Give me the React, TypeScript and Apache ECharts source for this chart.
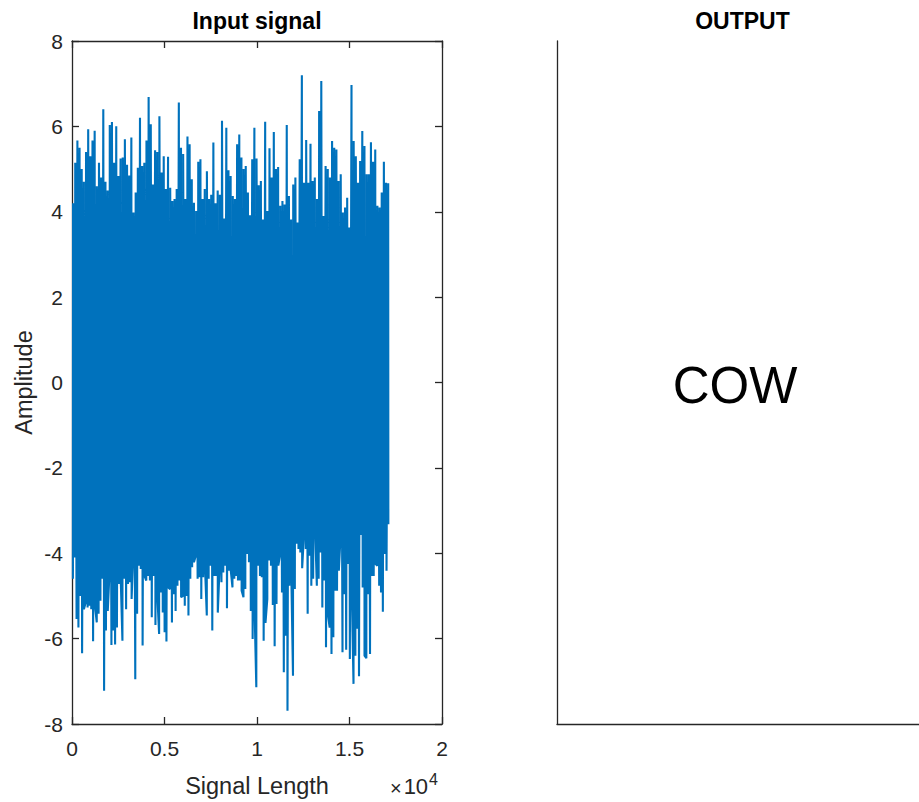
import React, { useEffect, useRef } from "react";
import * as echarts from "echarts";

// Input signal: heights of the visible upper spikes (left to right)
const UPPER_PEAKS = [
  4.2, 5.15, 5.67, 5.5, 5.0, 4.7, 5.4, 5.93, 5.3, 5.67, 5.9, 4.6, 5.15, 4.8, 6.4, 4.7, 4.5, 6.03, 6.1, 5.15,
  6.0, 4.84, 5.25, 5.27, 5.7, 5.1, 4.85, 5.74, 3.98, 4.45, 5.03, 6.2, 5.07, 5.15, 5.67, 6.69, 6.05, 4.64, 5.44, 5.4,
  6.24, 4.92, 5.3, 4.53, 5.29, 4.56, 4.25, 4.3, 4.53, 6.56, 5.5, 5.35, 4.3, 5.76, 5.58, 4.76, 4.21, 4.02, 5.17, 5.23,
  4.3, 4.53, 4.95, 4.3, 4.4, 5.62, 4.2, 4.5, 4.4, 6.13, 3.84,
  5.97, 4.97, 4.84, 4.37, 4.3, 5.58, 5.81, 5.27, 5.0, 5.07, 4.45, 3.92, 5.23, 5.97, 5.25, 4.62, 4.72, 3.82, 6.11, 4.02,
  5.49, 4.8, 5.87, 5.0, 5.05, 4.14, 4.25, 4.17, 6.03, 4.37, 3.82, 4.64, 4.8, 3.75, 5.23, 7.2, 4.68, 5.68, 4.68, 5.59,
  4.72, 4.8, 4.3, 6.36, 7.06, 3.9, 5.07, 5.0, 4.8, 5.66, 5.5, 5.46, 4.72, 4.88, 3.98, 4.1, 4.33, 3.63, 6.97, 5.66,
  5.3, 4.68, 5.19, 5.89, 5.54, 4.88, 4.88, 5.63, 5.17, 5.46, 4.14, 4.1, 4.45, 5.17, 4.68, 4.67,
];

// Input signal: depths of the visible lower spikes (left to right)
const LOWER_PEAKS = [
  -4.6, -4.1, -5.54, -5.74, -5.0, -6.34, -5.31, -5.15, -5.27, -5.23, -5.31, -6.06, -5.23, -5.62, -5.42, -5.11, -4.6,
  -7.22, -5.81, -5.35, -4.41, -6.15, -5.81, -6.14, -5.74, -4.72, -4.49, -6.05, -4.6, -5.31, -4.72, -4.68, -5.07, -3.9,
  -6.95, -5.42, -4.29, -4.37, -6.16, -4.53, -4.64, -4.53, -4.64, -5.5, -4.53, -5.68, -4.96, -5.89, -4.92, -5.39, -5.85,
  -6.07, -4.8, -4.84, -5.62, -4.96, -5.35, -4.76, -4.64, -5.03, -5.0, -5.23, -5.0, -5.46, -4.6, -4.33, -4.21, -4.06,
  -4.6, -4.56, -5.07, -4.56, -4.29, -5.46, -4.6, -4.29, -5.81, -4.53, -4.53, -5.39, -4.29, -4.68, -4.45,
  -4.29, -5.29, -4.41, -4.37, -4.8, -4.6, -4.53, -4.64, -4.64, -4.88, -5.03, -4.84, -4.02, -4.21, -5.35, -6.01, -5.23,
  -7.14, -4.29, -4.53, -4.56, -6.05, -5.63, -5.07, -4.17, -4.29, -5.21, -6.18, -5.19, -4.29, -4.02, -4.92, -6.79, -5.93,
  -7.69, -4.76, -4.29, -6.87, -4.84, -3.78, -3.9, -3.98, -4.35, -3.55, -3.9, -5.42, -4.06, -4.76, -4.6, -3.32, -4.76,
  -4.6, -3.98, -5.27, -4.64, -6.2, -5.42, -5.74, -6.36, -5.97, -4.88, -4.88, -4.41, -3.55, -6.32, -4.96, -6.26, -4.25,
  -6.48, -4.8, -7.06, -6.4, -5.77, -6.88, -3.57, -4.8, -6.4, -6.46, -4.96, -6.36, -4.53, -4.53, -4.25, -4.29, -4.76,
  -4.92, -5.37, -4.02, -4.41, -3.32,
];

// total signal length (samples)
const SIGNAL_LENGTH = 17150;

const X_TICKS = { min: 0, max: 20000, interval: 5000 };
const Y_TICKS = { min: -8, max: 8, interval: 2 };

const TITLE_LEFT = "Input signal";
const TITLE_RIGHT = "OUTPUT";
const X_LABEL = "Signal Length";
const Y_LABEL = "Amplitude";
const RESULT = "COW";

const FONT = "'Liberation Sans', Arial, Helvetica, sans-serif";
const AX = "#262626";
const BLUE = "#0072BD";

// place the spikes evenly along the signal and merge them in sample order
function signal(): number[][] {
  const pts: number[][] = [];
  UPPER_PEAKS.forEach((v, i) => pts.push([((i + 0.5) / UPPER_PEAKS.length) * SIGNAL_LENGTH, v]));
  LOWER_PEAKS.forEach((v, i) => pts.push([((i + 0.5) / LOWER_PEAKS.length) * SIGNAL_LENGTH, v]));
  pts.sort((a, b) => a[0] - b[0]);
  return pts;
}

export default function App() {
  const ref = useRef<HTMLDivElement>(null);
  useEffect(() => {
    if (!ref.current) return;
    const chart = echarts.init(ref.current, null, { renderer: "svg" });
    const tickLabel = { fontFamily: FONT, fontSize: 21, color: AX };
    const axisLine = { show: true, onZero: false, lineStyle: { color: AX, width: 1.3 } };
    const tick = { show: true, inside: true, length: 7, lineStyle: { color: AX, width: 1.3 } };
    const G0L = 72, G0T = 41, G0W = 370, G0H = 683;
    const G1L = 557, G1W = 371;
    chart.setOption({
      animation: false,
      backgroundColor: "#ffffff",
      grid: [
        { left: G0L, top: G0T, width: G0W, height: G0H },
        { left: G1L, top: G0T, width: G1W, height: G0H },
      ],
      xAxis: [
        {
          type: "value", gridIndex: 0, position: "bottom", ...X_TICKS,
          axisLine, axisTick: tick, splitLine: { show: false },
          axisLabel: { ...tickLabel, margin: 14, formatter: (v: number) => String(v / 10000) },
        },
        {
          type: "value", gridIndex: 0, position: "top", ...X_TICKS,
          axisLine, axisTick: tick, splitLine: { show: false }, axisLabel: { show: false },
        },
        {
          type: "value", gridIndex: 1, position: "bottom", min: 0, max: 1,
          axisLine, axisTick: { show: false }, splitLine: { show: false }, axisLabel: { show: false },
        },
      ],
      yAxis: [
        {
          type: "value", gridIndex: 0, position: "left", ...Y_TICKS,
          axisLine, axisTick: tick, splitLine: { show: false },
          axisLabel: { ...tickLabel, margin: 9 },
        },
        {
          type: "value", gridIndex: 0, position: "right", ...Y_TICKS,
          axisLine, axisTick: tick, splitLine: { show: false }, axisLabel: { show: false },
        },
        {
          type: "value", gridIndex: 1, position: "left", min: 0, max: 1,
          axisLine, axisTick: { show: false }, splitLine: { show: false }, axisLabel: { show: false },
        },
      ],
      series: [
        {
          type: "line", xAxisIndex: 0, yAxisIndex: 0, data: signal(),
          showSymbol: false, symbol: "none", lineStyle: { color: BLUE, width: 2.1 }, silent: true,
        },
      ],
      graphic: [
        {
          type: "text", x: G0L + G0W / 2, y: 21,
          style: { text: TITLE_LEFT, font: `bold 23px ${FONT}`, fill: "#000", textAlign: "center", textVerticalAlign: "middle" },
        },
        {
          type: "text", x: G1L + G1W / 2, y: 21,
          style: { text: TITLE_RIGHT, font: `bold 23px ${FONT}`, fill: "#000", textAlign: "center", textVerticalAlign: "middle" },
        },
        {
          type: "text", x: 735, y: 385,
          style: { text: RESULT, font: `51px ${FONT}`, fill: "#000", textAlign: "center", textVerticalAlign: "middle" },
        },
        {
          type: "text", x: 24, y: G0T + G0H / 2, rotation: Math.PI / 2,
          style: { text: Y_LABEL, font: `23.5px ${FONT}`, fill: AX, textAlign: "center", textVerticalAlign: "middle" },
        },
        {
          type: "text", x: G0L + G0W / 2, y: 786,
          style: { text: X_LABEL, font: `23.5px ${FONT}`, fill: AX, textAlign: "center", textVerticalAlign: "middle" },
        },
        {
          type: "text", x: 438, y: 786,
          style: {
            text: "{m|×}{b|10}{s|4}",
            textAlign: "right", textVerticalAlign: "middle", fill: AX,
            rich: {
              m: { fontFamily: FONT, fontSize: 20, fill: AX, padding: [4, 2, 0, 0] },
              b: { fontFamily: FONT, fontSize: 22, fill: AX },
              s: { fontFamily: FONT, fontSize: 16, fill: AX, padding: [0, 0, 14, 1] },
            },
          },
        },
      ],
    });
    return () => chart.dispose();
  }, []);
  return (
    <div
      ref={ref}
      style={{ position: "fixed", left: 0, top: 0, width: 919, height: 802, background: "#fff" }}
    />
  );
}
